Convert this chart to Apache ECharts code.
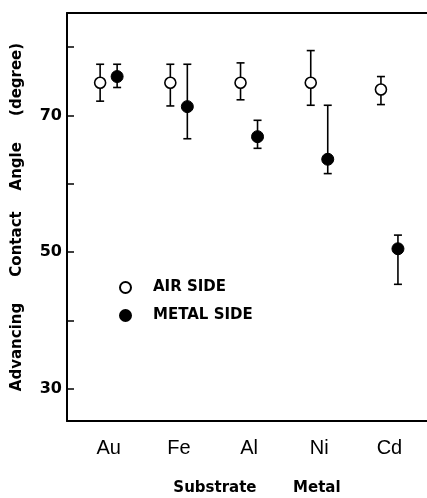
<!DOCTYPE html>
<html>
<head>
<meta charset="utf-8">
<script src="https://cdn.jsdelivr.net/npm/echarts@6/dist/echarts.min.js"></script>
<style>
html,body{margin:0;padding:0;background:#fff;}
#chart{width:427px;height:498px;}
</style>
</head>
<body>
<div id="chart"></div>
<script>
const categories = ['Au', 'Fe', 'Al', 'Ni', 'Cd'];
const airMean  = [74.8, 74.8, 74.8, 74.8, 73.8];
const airLow   = [72.1, 71.4, 72.3, 71.5, 71.6];
const airHigh  = [77.5, 77.5, 77.7, 79.5, 75.7];
const metalMean = [75.7, 71.3, 66.9, 63.6, 50.5];
const metalLow  = [74.1, 66.6, 65.2, 61.5, 45.3];
const metalHigh = [77.5, 77.5, 69.3, 71.5, 52.5];
const yTickValues = [30, 40, 50, 60, 70, 80];
const yLabelValues = [30, 50, 70];
const seriesNames = ['AIR SIDE', 'METAL SIDE'];

const AIR_OFF = -8.5, METAL_OFF = 8.5;

function errData(mean, lo, hi) {
  return categories.map((c, i) => [i, mean[i], lo[i], hi[i]]);
}
function errRender(offset) {
  return function (params, api) {
    const x = api.value(0);
    const pLo = api.coord([x, api.value(2)]);
    const pHi = api.coord([x, api.value(3)]);
    const cx = pLo[0] + offset;
    const cap = 4;
    const st = { stroke: '#000', lineWidth: 1.6 };
    return {
      type: 'group',
      children: [
        { type: 'line', shape: { x1: cx, y1: pLo[1], x2: cx, y2: pHi[1] }, style: st },
        { type: 'line', shape: { x1: cx - cap, y1: pLo[1], x2: cx + cap, y2: pLo[1] }, style: st },
        { type: 'line', shape: { x1: cx - cap, y1: pHi[1], x2: cx + cap, y2: pHi[1] }, style: st }
      ]
    };
  };
}

const chart = echarts.init(document.getElementById('chart'), null, { renderer: 'canvas' });
const xMin = -0.593, xMax = 4.535;
chart.setOption({
  animation: false,
  backgroundColor: '#fff',
  grid: { left: 67, right: 0, top: 13, bottom: 77, containLabel: false, outerBoundsMode: 'none' },
  legend: {
    orient: 'vertical',
    left: 114,
    top: 275,
    itemWidth: 11,
    itemHeight: 11,
    itemGap: 13,
    data: [{ name: seriesNames[0], icon: 'circle' }, { name: seriesNames[1], icon: 'circle' }],
    textStyle: { fontFamily: 'DejaVu Sans', fontWeight: 'bold', fontSize: 15, color: '#000', padding: [0, 0, 0, 17] }
  },
  xAxis: [
    {
      type: 'value', min: xMin, max: xMax, position: 'bottom',
      axisLine: { show: true, onZero: false, lineStyle: { color: '#000', width: 2 } },
      axisTick: { show: false },
      splitLine: { show: false },
      axisLabel: {
        customValues: categories.map((c, i) => i),
        formatter: v => categories[Math.round(v)],
        fontFamily: 'Liberation Sans', fontSize: 20, color: '#000', margin: 17
      },
      name: 'Substrate       Metal',
      nameLocation: 'middle',
      nameGap: 60,
      nameTextStyle: { fontFamily: 'DejaVu Sans', fontWeight: 'bold', fontSize: 15, color: '#000', padding: [0, 0, 0, 20] }
    },
    {
      type: 'value', min: xMin, max: xMax, position: 'top',
      axisLine: { show: true, onZero: false, lineStyle: { color: '#000', width: 2 } },
      axisTick: { show: false }, axisLabel: { show: false }, splitLine: { show: false }
    }
  ],
  yAxis: {
    type: 'value', min: 25.3, max: 85,
    axisLine: { show: true, onZero: false, lineStyle: { color: '#000', width: 2 } },
    axisTick: { show: true, inside: true, length: 7, customValues: yTickValues, lineStyle: { color: '#000', width: 1.5 } },
    splitLine: { show: false },
    axisLabel: {
      customValues: yLabelValues,
      fontFamily: 'DejaVu Sans', fontWeight: 'bold', fontSize: 16, color: '#000', margin: 5
    },
    name: 'Advancing     Contact    Angle     (degree)',
    nameLocation: 'middle',
    nameGap: 42,
    nameTextStyle: { fontFamily: 'DejaVu Sans', fontWeight: 'bold', fontSize: 15, color: '#000' }
  },
  series: [
    { type: 'custom', name: 'airErr', data: errData(airMean, airLow, airHigh), renderItem: errRender(AIR_OFF), z: 1, encode: { x: 0, y: [1, 2, 3] } },
    { type: 'custom', name: 'metalErr', data: errData(metalMean, metalLow, metalHigh), renderItem: errRender(METAL_OFF), z: 1, encode: { x: 0, y: [1, 2, 3] } },
    {
      type: 'scatter', name: seriesNames[0], z: 3,
      data: categories.map((c, i) => [i, airMean[i]]),
      symbol: 'circle', symbolSize: 11, symbolOffset: [AIR_OFF, 0],
      itemStyle: { color: '#fff', borderColor: '#000', borderWidth: 1.6, opacity: 1 }
    },
    {
      type: 'scatter', name: seriesNames[1], z: 3,
      data: categories.map((c, i) => [i, metalMean[i]]),
      symbol: 'circle', symbolSize: 12, symbolOffset: [METAL_OFF, 0],
      itemStyle: { color: '#000', borderColor: '#000', borderWidth: 1, opacity: 1 }
    }
  ]
});
</script>
</body>
</html>
